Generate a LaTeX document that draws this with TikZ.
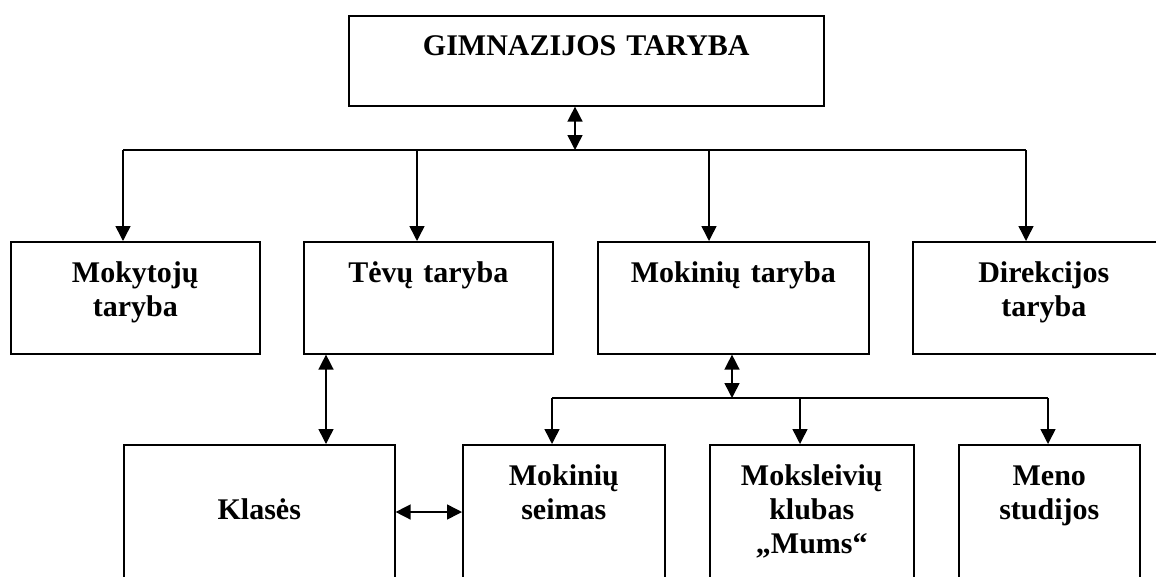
\documentclass[tikz,border=0pt]{standalone}
\usepackage{fontspec}
\setmainfont{Liberation Serif}
\usetikzlibrary{arrows.meta}
\tikzset{
  box/.style={draw, line width=1.6pt, rectangle, anchor=north west, inner sep=0pt},
  txt/.style={font=\fontsize{30}{34}\selectfont\bfseries, text width=460pt, align=center, inner sep=0pt, anchor=base},
  conn/.style={line width=1.5pt},
  arr/.style={conn, -{Triangle[width=15pt,length=15pt]}},
  dbl/.style={conn, {Triangle[width=15pt,length=15pt]}-{Triangle[width=15pt,length=15pt]}}
}
\begin{document}
\begin{tikzpicture}[x=1pt,y=-1pt]
\useasboundingbox (0,0) rectangle (1156,576);
\clip (0,0) rectangle (1156,576);
\fill[white] (0,0) rectangle (1156,576);
% boxes
\node[box, minimum width=475pt, minimum height=90pt] (top) at (348,15) {};
\node[box, minimum width=249pt, minimum height=112pt] (mok) at (10,241) {};
\node[box, minimum width=249pt, minimum height=112pt] (tev) at (303,241) {};
\node[box, minimum width=271pt, minimum height=112pt] (mkt) at (597,241) {};
\node[box, minimum width=262pt, minimum height=112pt] (dir) at (912,241) {};
\node[box, minimum width=271pt, minimum height=200pt] (kla) at (123,444) {};
\node[box, minimum width=202pt, minimum height=200pt] (sei) at (462,444) {};
\node[box, minimum width=204pt, minimum height=200pt] (mks) at (709,444) {};
\node[box, minimum width=181pt, minimum height=200pt] (men) at (958,444) {};
% texts
\node[txt] (ttop) at ([yshift=-40pt]top.north) {GIMNAZIJOS TARYBA};
\node[txt] (tmok) at ([yshift=-41pt]mok.north) {Mokytojų\\taryba};
\node[txt] (ttev) at ([yshift=-41pt]tev.north) {Tėvų taryba};
\node[txt] (tmkt) at ([yshift=-41pt]mkt.north) {Mokinių taryba};
\node[txt] (tdir) at ([yshift=-41pt]dir.north) {Direkcijos\\taryba};
\node[txt] (tkla) at ([yshift=-75pt]kla.north) {Klasės};
\node[txt] (tsei) at ([yshift=-41pt]sei.north) {Mokinių\\seimas};
\node[txt] (tmks) at ([yshift=-41pt]mks.north) {Moksleivių\\klubas\\„Mums“};
\node[txt] (tmen) at ([yshift=-41pt]men.north) {Meno\\studijos};
% junction coordinates
\coordinate (tj) at (575,150);
\coordinate (a1) at (123,150);
\coordinate (a2) at (417,150);
\coordinate (a3) at (709,150);
\coordinate (a4) at (1026,150);
\coordinate (tk) at (326,0);
\coordinate (b0) at (732,398);
\coordinate (b1) at (552,398);
\coordinate (b2) at (800,398);
\coordinate (b3) at (1048,398);
\coordinate (ks) at (0,512);
% connectors
\draw[dbl] (tj |- top.south) -- (tj);
\draw[conn] (a1) -- (a4);
\draw[arr] (a1) -- (a1 |- mok.north);
\draw[arr] (a2) -- (a2 |- tev.north);
\draw[arr] (a3) -- (a3 |- mkt.north);
\draw[arr] (a4) -- (a4 |- dir.north);
\draw[dbl] (tk |- tev.south) -- (tk |- kla.north);
\draw[dbl] (b0 |- mkt.south) -- (b0);
\draw[conn] (b1) -- (b3);
\draw[arr] (b1) -- (b1 |- sei.north);
\draw[arr] (b2) -- (b2 |- mks.north);
\draw[arr] (b3) -- (b3 |- men.north);
\draw[dbl] (kla.east |- ks) -- (sei.west |- ks);
\end{tikzpicture}
\end{document}
